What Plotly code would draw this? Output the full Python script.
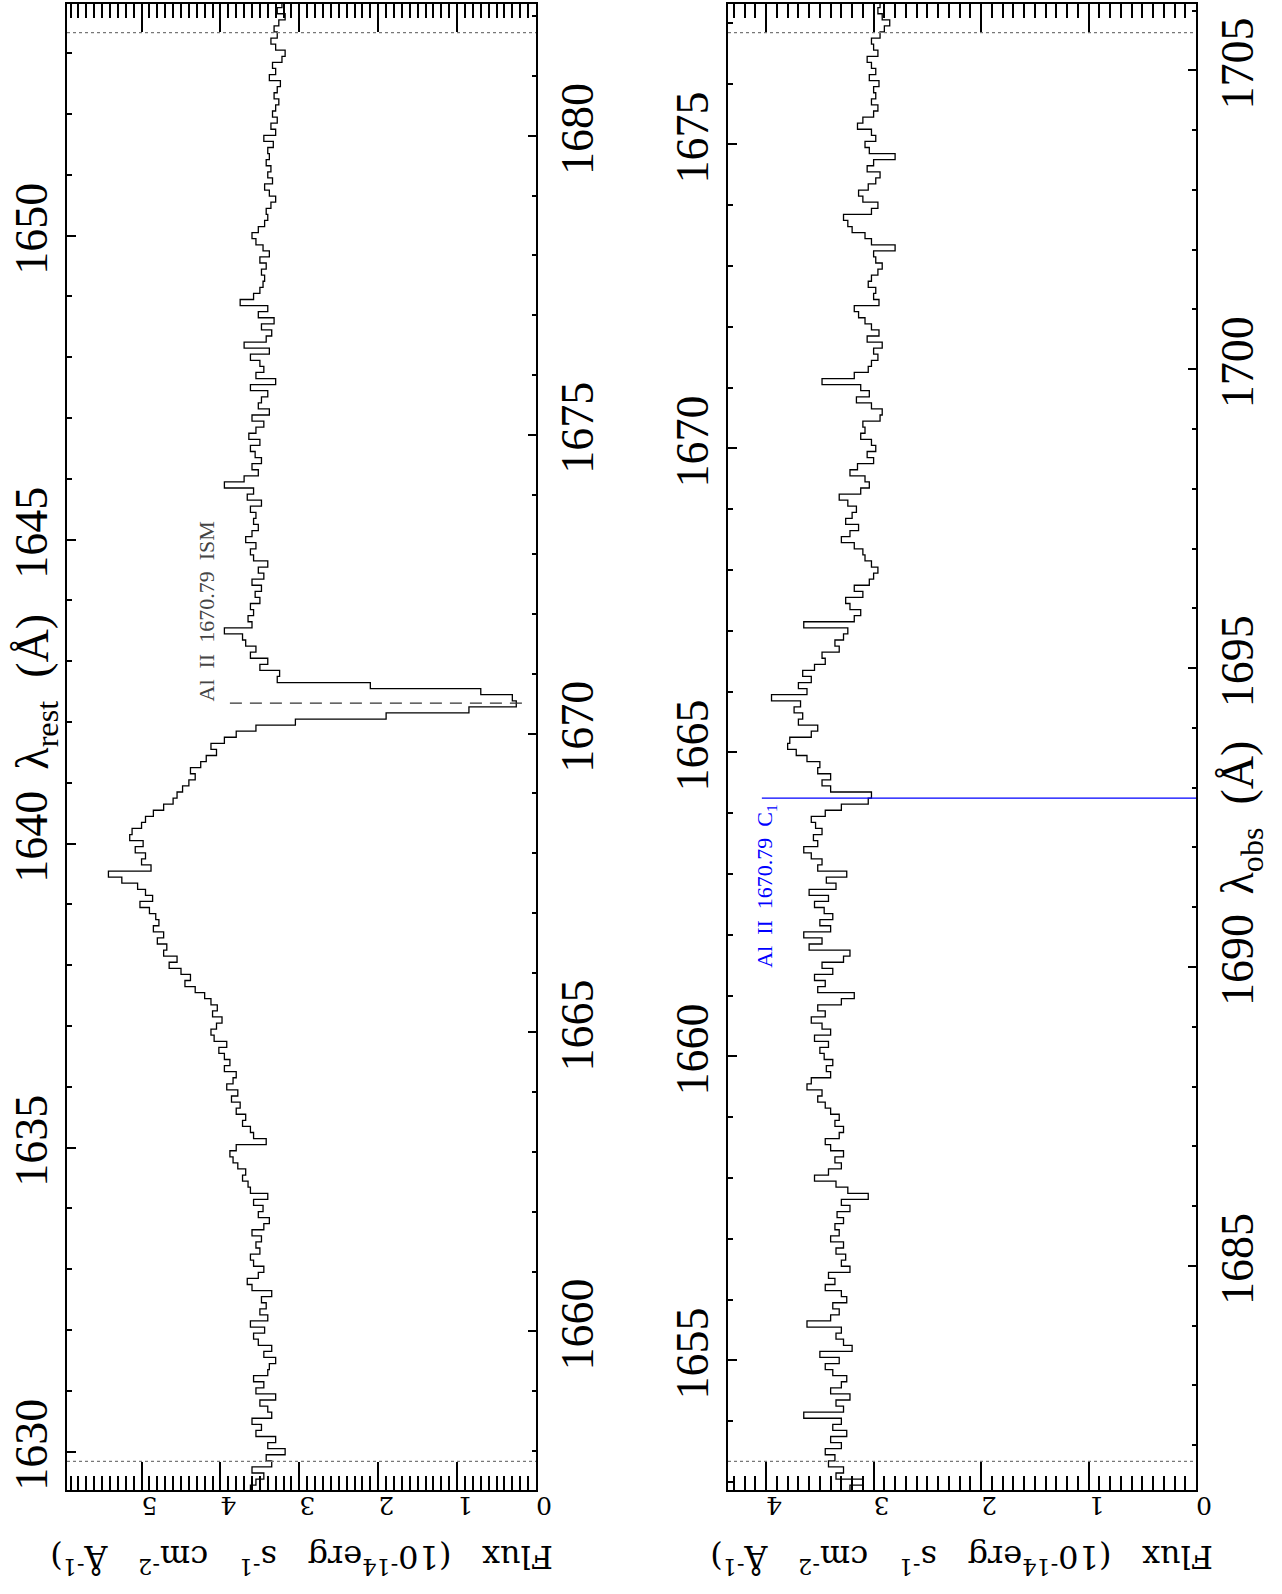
import numpy as np
import plotly.graph_objects as go

# ---------------- data ----------------
Z = 0.01717                 # redshift relating rest and observed wavelength
BIN = 0.1                   # spectral bin width (rest frame, Angstrom)
TOP_START = 1629.35         # lower edge of first bin, top panel (rest)
BOT_START = 1652.85         # lower edge of first bin, bottom panel (rest)

top_flux = [
    3.62, 3.55, 3.45, 3.60, 3.35, 3.42, 3.18, 3.40, 3.30, 3.55,
    3.48, 3.60, 3.35, 3.40, 3.50, 3.30, 3.55, 3.45, 3.58, 3.40,
    3.38, 3.30, 3.45, 3.35, 3.52, 3.58, 3.44, 3.62, 3.40, 3.50,
    3.42, 3.48, 3.35, 3.60, 3.66, 3.52, 3.45, 3.58, 3.62, 3.50,
    3.55, 3.48, 3.60, 3.45, 3.38, 3.52, 3.46, 3.58, 3.40, 3.62,
    3.65, 3.72, 3.68, 3.78, 3.84, 3.88, 3.80, 3.42, 3.58, 3.62,
    3.72, 3.68, 3.80, 3.75, 3.86, 3.78, 3.92, 3.84, 3.80, 3.95,
    3.88, 3.95, 4.02, 3.92, 4.08, 4.12, 4.05, 3.98, 4.10, 4.04,
    4.12, 4.20, 4.32, 4.45, 4.38, 4.50, 4.65, 4.55, 4.72, 4.68,
    4.80, 4.72, 4.85, 4.78, 4.82, 4.90, 5.02, 4.86, 4.95, 5.05,
    5.25, 5.42, 4.88, 5.00, 4.95, 5.08, 4.98, 5.15, 5.12, 5.00,
    4.95, 4.85, 4.72, 4.60, 4.55, 4.48, 4.40, 4.32, 4.38, 4.25,
    4.18, 4.05, 4.12, 3.95, 3.80, 3.55, 3.05, 1.90, 0.85, 0.25,
    0.30, 0.70, 2.10, 3.28, 3.25, 3.50, 3.40, 3.62, 3.55, 3.68,
    3.72, 3.95, 3.60, 3.65, 3.58, 3.62, 3.50, 3.56, 3.48, 3.60,
    3.45, 3.52, 3.40, 3.58, 3.62, 3.55, 3.68, 3.60, 3.52, 3.58,
    3.55, 3.62, 3.48, 3.66, 3.58, 3.95, 3.70, 3.52, 3.60, 3.48,
    3.56, 3.62, 3.50, 3.64, 3.55, 3.45, 3.60, 3.38, 3.52, 3.48,
    3.40, 3.62, 3.30, 3.55, 3.45, 3.50, 3.62, 3.38, 3.70, 3.42,
    3.35, 3.48, 3.32, 3.52, 3.40, 3.75, 3.58, 3.50, 3.46, 3.44,
    3.48, 3.42, 3.50, 3.38, 3.46, 3.55, 3.60, 3.52, 3.44, 3.40,
    3.42, 3.36, 3.30, 3.38, 3.44, 3.34, 3.40, 3.36, 3.42, 3.38,
    3.40, 3.33, 3.45, 3.30, 3.36, 3.28, 3.34, 3.30, 3.26, 3.32,
    3.28, 3.24, 3.38, 3.30, 3.34, 3.22, 3.18, 3.30, 3.36, 3.28,
    3.32, 3.26, 3.18, 3.28, 3.22,
]

bot_flux = [
    3.22, 3.10, 3.35, 3.28, 3.42, 3.36, 3.45, 3.30, 3.40, 3.25,
    3.38, 3.30, 3.65, 3.28, 3.35, 3.22, 3.40, 3.30, 3.25, 3.38,
    3.45, 3.32, 3.50, 3.20, 3.28, 3.35, 3.30, 3.62, 3.40, 3.32,
    3.38, 3.25, 3.30, 3.45, 3.36, 3.42, 3.22, 3.30, 3.26, 3.35,
    3.28, 3.40, 3.32, 3.36, 3.28, 3.34, 3.22, 3.30, 3.05, 3.24,
    3.35, 3.55, 3.42, 3.30, 3.36, 3.28, 3.40, 3.45, 3.32, 3.28,
    3.36, 3.32, 3.40, 3.45, 3.52, 3.48, 3.62, 3.58, 3.40, 3.44,
    3.38, 3.46, 3.50, 3.42, 3.55, 3.40, 3.48, 3.58, 3.45, 3.52,
    3.30, 3.18, 3.52, 3.45, 3.55, 3.38, 3.48, 3.28, 3.22, 3.60,
    3.48, 3.65, 3.40, 3.50, 3.38, 3.46, 3.55, 3.42, 3.60, 3.35,
    3.44, 3.25, 3.52, 3.48, 3.58, 3.65, 3.52, 3.56, 3.48, 3.54,
    3.58, 3.45, 3.30, 3.05, 3.02, 3.40, 3.48, 3.40, 3.52, 3.50,
    3.62, 3.72, 3.80, 3.78, 3.58, 3.52, 3.70, 3.66, 3.74, 3.68,
    3.95, 3.62, 3.70, 3.58, 3.66, 3.55, 3.45, 3.48, 3.32, 3.36,
    3.28, 3.24, 3.65, 3.18, 3.12, 3.22, 3.26, 3.10, 3.18, 3.04,
    3.00, 2.96, 3.02, 3.08, 3.10, 3.18, 3.30, 3.22, 3.14, 3.26,
    3.20, 3.16, 3.24, 3.32, 3.12, 3.04, 3.08, 3.22, 3.15, 3.00,
    3.06, 2.98, 3.02, 3.12, 3.08, 3.10, 2.94, 2.92, 3.02, 3.16,
    3.04, 3.12, 3.48, 3.18, 3.05, 3.02, 2.96, 3.00, 2.92, 3.06,
    2.95, 3.02, 3.08, 3.14, 3.18, 2.95, 3.00, 2.98, 3.05, 3.02,
    2.96, 2.92, 2.98, 3.00, 2.80, 3.02, 3.08, 3.20, 3.24, 3.28,
    3.02, 2.96, 3.10, 3.14, 3.05, 2.98, 2.94, 3.06, 3.00, 2.80,
    3.04, 3.08, 2.98, 3.02, 3.15, 3.10, 3.00, 2.96, 3.02, 2.98,
    3.00, 2.95, 3.04, 2.98, 3.02, 3.06, 2.96, 3.00, 3.02, 2.94,
    2.90, 2.85, 2.92, 2.96, 2.94,
]

TOP_WINDOW = [1629.84, 1653.34]     # rest-frame window (dotted lines)
BOT_WINDOW = [1653.34, 1676.84]
PAD = 0.47
TOP_FLUX_MAX = 5.945
BOT_FLUX_MAX = 4.355

ISM_LINE_REST = 1642.31
ISM_LINE_FLUX = [3.88, 0.12]
C1_LINE_REST = 1664.25
C1_LINE_FLUX = [4.04, 0.0]
SP = "\u00a0"
ISM_LABEL = SP.join(["Al", "", "II", "", "1670.79", "", "ISM"])
C1_LABEL = SP.join(["Al", "", "II", "", "1670.79", "", "C<sub>1</sub>"])
FLUX_TITLE = (SP * 3).join(["Flux", "(10<sup>-14</sup>erg", "s<sup>-1</sup>",
                            "cm<sup>-2</sup>", "Å<sup>-1</sup>)"])
REST_TITLE = "λ<sub>rest</sub>" + SP * 2 + "(Å)"
OBS_TITLE = "λ<sub>obs</sub>" + SP * 2 + "(Å)"

# ---------------- helpers ----------------
def step_path(start, fluxes):
    xs, ys = [], []
    for i, f in enumerate(fluxes):
        lo = start + i * BIN
        xs += [f, f]
        ys += [lo, lo + BIN]
    return xs, ys

W, H = 1282, 1594
top_dom = [67 / W, 536 / W]
bot_dom = [728 / W, 1196 / W]
y_dom = [1 - 1490 / H, 1 - 4 / H]

top_range = [TOP_WINDOW[0] - PAD, TOP_WINDOW[1] + PAD]
bot_range = [BOT_WINDOW[0] - PAD, BOT_WINDOW[1] + PAD]

fig = go.Figure()
tx, ty = step_path(TOP_START, top_flux)
bx, by = step_path(BOT_START, bot_flux)
fig.add_trace(go.Scatter(x=tx, y=ty, mode="lines", line=dict(color="black", width=1.3),
                         xaxis="x", yaxis="y", hoverinfo="skip", showlegend=False))
fig.add_trace(go.Scatter(x=bx, y=by, mode="lines", line=dict(color="black", width=1.3),
                         xaxis="x2", yaxis="y2", hoverinfo="skip", showlegend=False))
fig.add_trace(go.Scatter(x=[None], y=[None], xaxis="x", yaxis="y3", showlegend=False, hoverinfo="skip"))
fig.add_trace(go.Scatter(x=[None], y=[None], xaxis="x2", yaxis="y4", showlegend=False, hoverinfo="skip"))

frame = dict(showline=True, linecolor="black", linewidth=2, showgrid=False, zeroline=False,
             ticks="inside", tickcolor="black", autorange=False, automargin=False)
xfont = dict(family="DejaVu Serif", size=25, color="black")
yfont = dict(family="Liberation Serif", size=46, color="black")

def xaxis(dom, anchor, fmax):
    return dict(frame, domain=dom, anchor=anchor, range=[fmax, 0], dtick=1, tick0=0,
                ticklen=28, tickwidth=2, mirror="ticks", tickangle=180, tickfont=xfont,
                minor=dict(dtick=0.1, tick0=0, ticklen=14, tickwidth=1.5, ticks="inside",
                           tickcolor="black", showgrid=False))

def yaxis(rng, anchor, side, tl, overlay=None):
    d = dict(frame, domain=y_dom, anchor=anchor, range=rng, dtick=5, tick0=0, ticklen=tl,
             tickwidth=2, tickangle=-90, tickfont=yfont, side=side,
             minor=dict(dtick=1, tick0=0, ticklen=tl / 2, tickwidth=2, ticks="inside",
                        tickcolor="black", showgrid=False))
    if overlay:
        d["overlaying"] = overlay
    return d

obs = lambda r: [r[0] * (1 + Z), r[1] * (1 + Z)]

fig.update_layout(
    template="none",
    width=W, height=H, margin=dict(l=0, r=0, t=0, b=0, pad=0),
    paper_bgcolor="white", plot_bgcolor="white", showlegend=False,
    xaxis=xaxis(top_dom, "y", TOP_FLUX_MAX),
    xaxis2=xaxis(bot_dom, "y2", BOT_FLUX_MAX),
    yaxis=yaxis(top_range, "x", "left", 9),
    yaxis3=yaxis(obs(top_range), "x", "right", 8, overlay="y"),
    yaxis2=yaxis(bot_range, "x2", "left", 9),
    yaxis4=yaxis(obs(bot_range), "x2", "right", 8, overlay="y2"),
)

# dotted window boundaries
for xr, yr, win in (("x", "y", TOP_WINDOW), ("x2", "y2", BOT_WINDOW)):
    for v in win:
        fig.add_shape(type="line", xref=xr + " domain", yref=yr, x0=0, x1=1, y0=v, y1=v,
                      line=dict(color="#777777", width=1.2, dash="dot"))

# line markers
fig.add_shape(type="line", xref="x", yref="y", x0=ISM_LINE_FLUX[0], x1=ISM_LINE_FLUX[1],
              y0=ISM_LINE_REST, y1=ISM_LINE_REST,
              line=dict(color="#333333", width=1.2, dash="12px,8px"))
fig.add_shape(type="line", xref="x2", yref="y2", x0=C1_LINE_FLUX[0], x1=C1_LINE_FLUX[1],
              y0=C1_LINE_REST, y1=C1_LINE_REST, line=dict(color="#0000ff", width=1.2))

fig.add_annotation(text=ISM_LABEL, xref="x", yref="y", x=4.18, y=ISM_LINE_REST,
                   textangle=-90, showarrow=False, xanchor="center", yanchor="bottom",
                   font=dict(family="Liberation Serif", size=22, color="#444444"))
fig.add_annotation(text=C1_LABEL, xref="x2", yref="y2", x=4.0, y=C1_LINE_REST - 0.06,
                   textangle=-90, showarrow=False, xanchor="center", yanchor="top",
                   font=dict(family="Liberation Serif", size=22, color="#0000ff"))

# axis titles
fig.add_annotation(text=REST_TITLE, xref="paper", yref="y",
                   x=36 / W, y=1642.5, textangle=-90, showarrow=False,
                   xanchor="center", yanchor="middle", font=yfont)
fig.add_annotation(text=OBS_TITLE, xref="paper", yref="y4",
                   x=1241 / W, y=1692.5, textangle=-90, showarrow=False,
                   xanchor="center", yanchor="middle", font=yfont)
for xr in ("x", "x2"):
    fig.add_annotation(text=FLUX_TITLE, xref=xr + " domain", yref="paper", x=0.5,
                       y=1 - 1559 / H, textangle=180, showarrow=False,
                       xanchor="center", yanchor="middle",
                       font=dict(family="DejaVu Serif", size=32, color="black"))

fig.write_html("out.html", config={"displayModeBar": False},
               post_script="document.body.style.margin='0';document.body.style.padding='0';")
